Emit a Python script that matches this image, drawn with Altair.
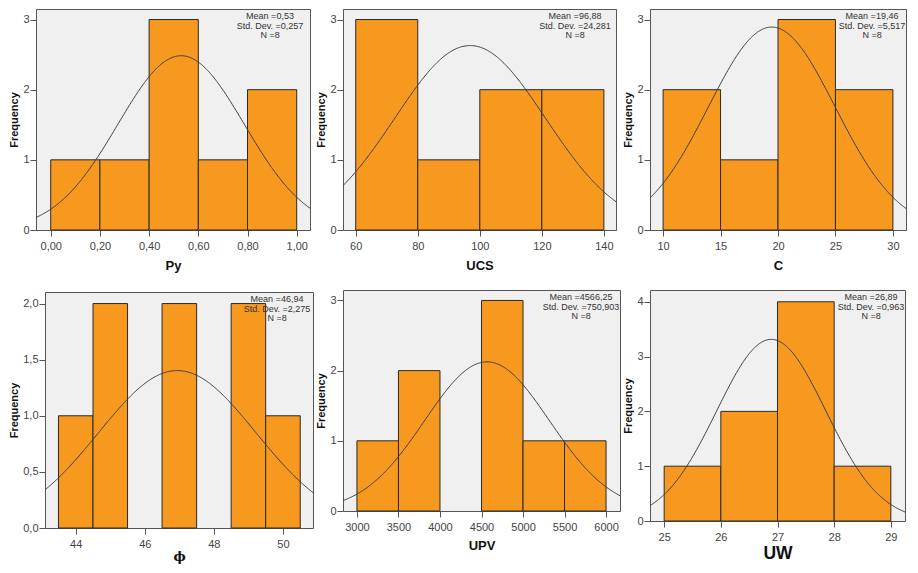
import altair as alt
import pandas as pd

# ---------------- data ----------------
titles = ["Py", "UCS", "C", "ϕ", "UPV", "UW"]

py_edges = [0.0, 0.2, 0.4, 0.6, 0.8, 1.0]
py_counts = [1, 1, 3, 1, 2]
ucs_edges = [60, 80, 100, 120, 140]
ucs_counts = [3, 1, 2, 2]
c_edges = [10, 15, 20, 25, 30]
c_counts = [2, 1, 3, 2]
phi_edges = [43.5, 44.5, 45.5, 46.5, 47.5, 48.5, 49.5, 50.5]
phi_counts = [1, 2, 0, 2, 0, 2, 1]
upv_edges = [3000, 3500, 4000, 4500, 5000, 5500, 6000]
upv_counts = [1, 2, 0, 3, 1, 1]
uw_edges = [25, 26, 27, 28, 29]
uw_counts = [1, 2, 4, 1]

means = [0.53, 96.88, 19.46, 46.94, 4566.25, 26.89]
sds = [0.257, 24.281, 5.517, 2.275, 750.903, 0.963]
mean_labels = ["0,53", "96,88", "19,46", "46,94", "4566,25", "26,89"]
sd_labels = ["0,257", "24,281", "5,517", "2,275", "750,903", "0,963"]
n_obs = 8

py_xticks = [0.0, 0.2, 0.4, 0.6, 0.8, 1.0]
ucs_xticks = [60, 80, 100, 120, 140]
c_xticks = [10, 15, 20, 25, 30]
phi_xticks = [44, 46, 48, 50]
upv_xticks = [3000, 3500, 4000, 4500, 5000, 5500, 6000]
uw_xticks = [25, 26, 27, 28, 29]
yticks_3 = [0, 1, 2, 3]
phi_yticks = [0.0, 0.5, 1.0, 1.5, 2.0]
uw_yticks = [0, 1, 2, 3, 4]

# ---------------- style ----------------
ORANGE = "#F7981F"
BAR_STROKE = "#2A2A2A"
PLOT_BG = "#F0F0F0"
FRAME = "#555555"
FONT = "Liberation Sans"


def panel(i, edges, counts, xdom, ydom, w, h, xticks, yticks, xfmt, yfmt,
          text_dx, title_size=13, title_pad=8, title_font=FONT):
    bw = edges[1] - edges[0]
    df = pd.DataFrame({"x0": edges[:-1], "x1": edges[1:], "count": counts})
    df = df[df["count"] > 0]
    xscale = alt.Scale(domain=xdom, nice=False, zero=False)
    yscale = alt.Scale(domain=ydom, nice=False, zero=False)
    xaxis = alt.Axis(
        values=xticks, title=titles[i],
        labelExpr=f"replace(format(datum.value, '{xfmt}'), '.', ',')",
        domain=False, grid=False, ticks=True, tickSize=6, tickColor=FRAME,
        labelPadding=4, labelFont=FONT, labelFontSize=11, labelColor="#444",
        titleFont=title_font, titleFontSize=title_size, titleFontWeight="bold",
        titleColor="#111", titlePadding=title_pad, labelFlush=False,
    )
    yaxis = alt.Axis(
        values=yticks, title="Frequency",
        labelExpr=f"replace(format(datum.value, '{yfmt}'), '.', ',')",
        domain=False, grid=False, ticks=True, tickSize=6, tickColor=FRAME,
        labelPadding=1, labelFont=FONT, labelFontSize=11, labelColor="#444",
        titleFont=FONT, titleFontSize=11, titleFontWeight="bold",
        titleColor="#111", titlePadding=3,
    )
    bars = alt.Chart(df).mark_rect(
        fill=ORANGE, stroke=BAR_STROKE, strokeWidth=1
    ).encode(
        x=alt.X("x0:Q", scale=xscale, axis=xaxis),
        x2="x1:Q",
        y=alt.Y("count:Q", scale=yscale, axis=yaxis),
        y2=alt.datum(0),
    )
    step = (xdom[1] - xdom[0]) / 300.0
    curve = alt.Chart(
        alt.sequence(xdom[0], xdom[1] + step, step, as_="x")
    ).transform_calculate(
        f=f"{n_obs * bw}*densityNormal(datum.x, {means[i]}, {sds[i]})"
    ).mark_line(color="#3C3C3C", strokeWidth=1, clip=True).encode(
        x=alt.X("x:Q", scale=xscale, axis=xaxis),
        y=alt.Y("f:Q", scale=yscale, axis=yaxis),
    )
    stats = pd.DataFrame({"t": [f"Mean ={mean_labels[i]}\nStd. Dev. ={sd_labels[i]}\nN ={n_obs}"]})
    text = alt.Chart(stats).mark_text(
        font=FONT, fontSize=9, color="#333", align="center", baseline="top",
        lineBreak="\n", lineHeight=9.5,
    ).encode(text="t:N", x=alt.value(w - text_dx), y=alt.value(3))
    return alt.layer(bars, curve, text).properties(
        width=w, height=h,
        view=alt.ViewBackground(fill=PLOT_BG, stroke=FRAME, strokeWidth=1),
    )


p_py = panel(0, py_edges, py_counts, [-0.0598, 1.054], [0, 3.15], 274, 221,
             py_xticks, yticks_3, ".2f", "d", 40)
p_ucs = panel(1, ucs_edges, ucs_counts, [55.9, 143.9], [0, 3.15], 273, 221,
              ucs_xticks, yticks_3, "d", "d", 41)
p_c = panel(2, c_edges, c_counts, [8.86, 31.14], [0, 3.15], 256, 221,
            c_xticks, yticks_3, "d", "d", 34)
p_phi = panel(3, phi_edges, phi_counts, [43.11, 50.87], [0, 2.103], 268, 236,
              phi_xticks, phi_yticks, "d", ".1f", 36, title_size=13,
              title_pad=1, title_font="DejaVu Serif")
p_upv = panel(4, upv_edges, upv_counts, [2832, 6168], [0, 3.149], 277, 221,
              upv_xticks, yticks_3, "d", "d", 39, title_pad=7)
p_uw = panel(5, uw_edges, uw_counts, [24.75, 29.25], [0, 4.215], 255, 231,
             uw_xticks, uw_yticks, "d", "d", 34, title_size=17.5, title_pad=2)

spacer = alt.Chart(pd.DataFrame({"v": [0]})).mark_point(opacity=0).encode(
    x=alt.value(0), y=alt.value(0)
).properties(width=9, height=10)

col1 = alt.vconcat(p_py, alt.hconcat(spacer, p_phi, spacing=0, bounds="flush"),
                   spacing=16)
col2 = alt.vconcat(p_ucs, p_upv, spacing=16)
col3 = alt.vconcat(p_c, p_uw, spacing=16)

chart = alt.hconcat(col1, col2, col3, spacing=1).properties(
    padding={"left": 0, "top": 0, "right": 0, "bottom": 0},
    background="white",
).configure_view(stroke=None)

chart.save("out.html", embed_options={"renderer": "svg", "actions": False})
